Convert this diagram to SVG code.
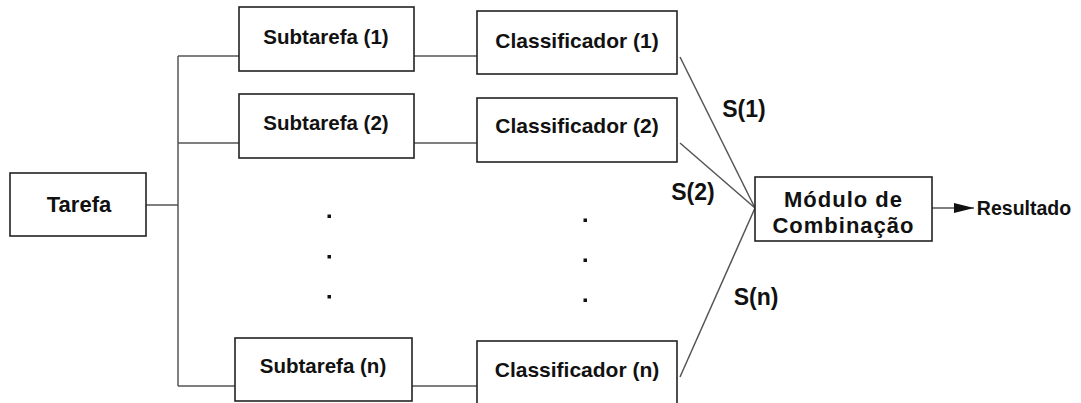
<svg xmlns="http://www.w3.org/2000/svg" width="1081" height="403" viewBox="0 0 1081 403">
  <style>
    .box { fill: #ffffff; stroke: #222222; stroke-width: 1.6; }
    .lbl { font-family: "Liberation Sans", Arial, sans-serif; font-weight: bold; fill: #111111; text-anchor: middle; }
    .wire { fill: none; stroke: #555555; stroke-width: 1.5; }
    .dot { fill: #111111; }
  </style>
  <defs>
    <marker id="arrow" viewBox="0 0 20 10" refX="20" refY="5" markerWidth="20" markerHeight="10" markerUnits="userSpaceOnUse" orient="auto">
      <path d="M0,0 L20,5 L0,10 Z" fill="#111111"/>
    </marker>
  </defs>
  <rect width="1081" height="403" fill="#ffffff"/>

  <!-- connectors -->
  <g id="connectors">
    <path class="wire" d="M146,205 H178"/>
    <path class="wire" d="M178,56 V386"/>
    <path class="wire" d="M178,56 H239"/>
    <path class="wire" d="M178,143 H239"/>
    <path class="wire" d="M178,386 H235"/>
    <path class="wire" d="M414,56 H477"/>
    <path class="wire" d="M414,143 H477"/>
    <path class="wire" d="M412,386 H477"/>
    <path class="wire" d="M680,57 L755,208"/>
    <path class="wire" d="M680,143 L755,208"/>
    <path class="wire" d="M680,377 L755,208"/>
    <path class="wire" d="M932,208 H974" marker-end="url(#arrow)"/>
    <text class="lbl" x="744" y="117" font-size="23">S(1)</text>
    <text class="lbl" x="693" y="200" font-size="23">S(2)</text>
    <text class="lbl" x="756" y="305" font-size="23">S(n)</text>
  </g>

  <g id="tarefa">
    <rect class="box" x="10" y="173" width="136" height="63"/>
    <text class="lbl" x="79" y="212" font-size="22">Tarefa</text>
  </g>

  <g id="subtarefa-1">
    <rect class="box" x="239" y="7" width="175" height="64"/>
    <text class="lbl" x="326" y="44" font-size="20.5">Subtarefa (1)</text>
  </g>
  <g id="subtarefa-2">
    <rect class="box" x="239" y="94" width="175" height="64"/>
    <text class="lbl" x="326" y="130" font-size="20.5">Subtarefa (2)</text>
  </g>
  <g id="subtarefa-n">
    <rect class="box" x="235" y="338" width="177" height="63"/>
    <text class="lbl" x="323" y="373" font-size="20.5">Subtarefa (n)</text>
  </g>

  <g id="dots-subtarefa">
    <rect class="dot" x="327.5" y="214.5" width="3.5" height="3.5"/>
    <rect class="dot" x="327.5" y="255" width="3.5" height="3.5"/>
    <rect class="dot" x="327.5" y="295" width="3.5" height="3.5"/>
  </g>

  <g id="classificador-1">
    <rect class="box" x="477" y="11" width="200" height="63"/>
    <text class="lbl" x="577" y="48" font-size="21">Classificador (1)</text>
  </g>
  <g id="classificador-2">
    <rect class="box" x="477" y="98" width="200" height="64"/>
    <text class="lbl" x="577" y="133" font-size="21">Classificador (2)</text>
  </g>
  <g id="classificador-n">
    <rect class="box" x="477" y="341" width="200" height="70"/>
    <text class="lbl" x="577" y="377" font-size="21">Classificador (n)</text>
  </g>

  <g id="dots-classificador">
    <rect class="dot" x="583.5" y="218.5" width="3.5" height="3.5"/>
    <rect class="dot" x="583.5" y="258.5" width="3.5" height="3.5"/>
    <rect class="dot" x="583.5" y="298.5" width="3.5" height="3.5"/>
  </g>

  <g id="modulo-combinacao">
    <rect class="box" x="755" y="177" width="177" height="64"/>
    <text class="lbl" x="843.5" y="207" font-size="22" letter-spacing="1">Módulo de</text>
    <text class="lbl" x="843.5" y="233" font-size="22" letter-spacing="1">Combinação</text>
  </g>

  <g id="resultado">
    <text class="lbl" x="1024" y="215" font-size="19.5">Resultado</text>
  </g>
</svg>
